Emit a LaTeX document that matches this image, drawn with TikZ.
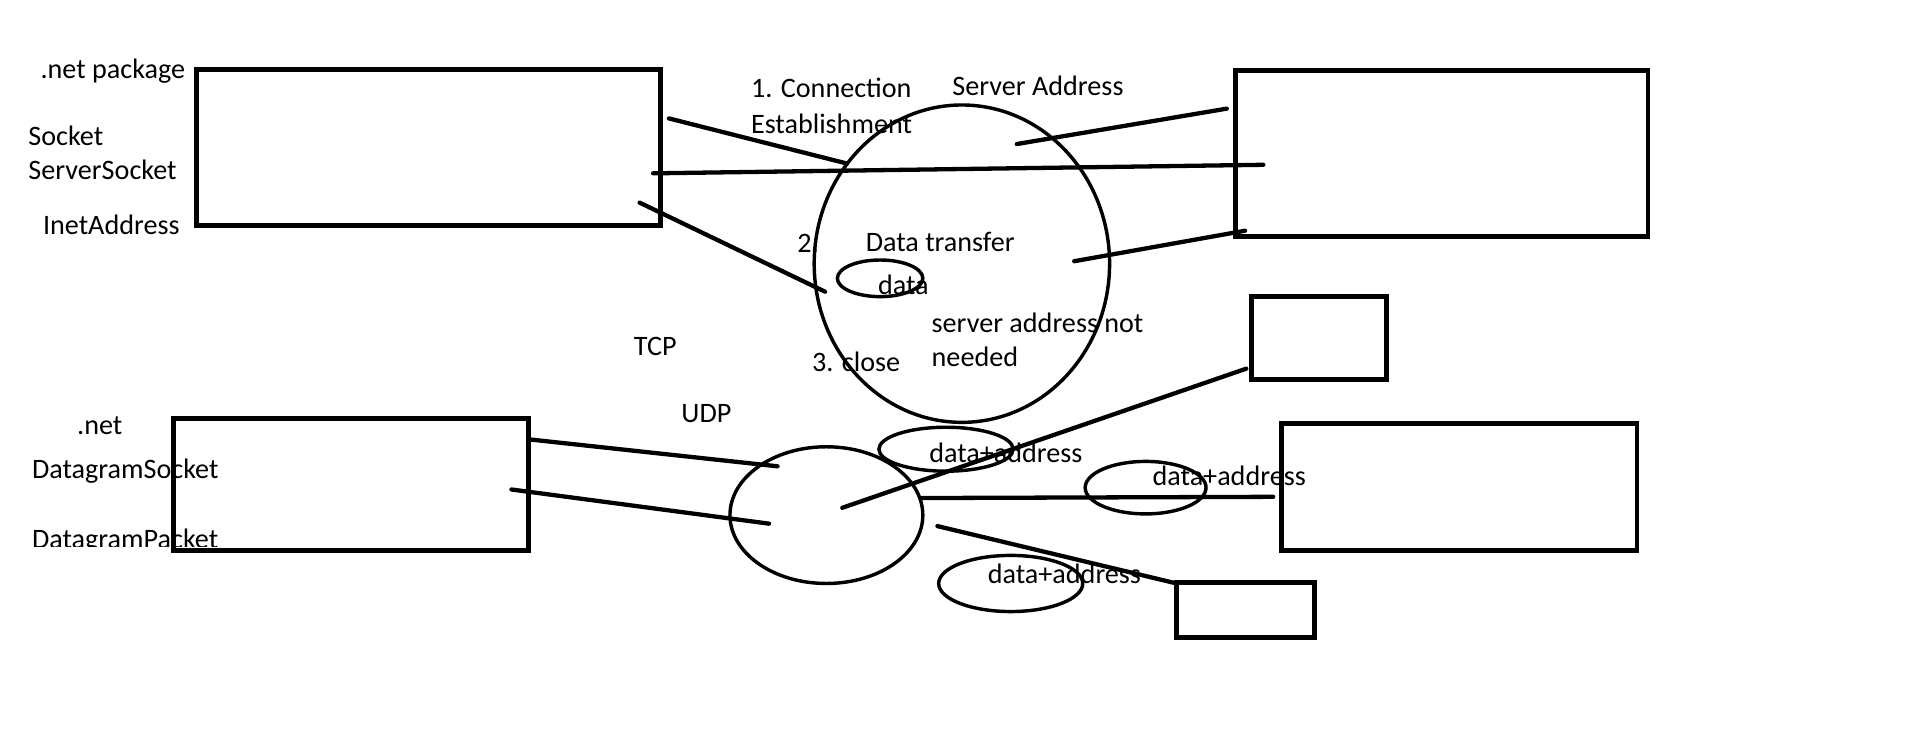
\documentclass[tikz,border=0pt]{standalone}
\usepackage{fontspec}
\setmainfont{Carlito}
\usetikzlibrary{shapes.geometric}

\newcommand{\px}{0.025cm}

\begin{document}
\begin{tikzpicture}[x=\px, y=-\px,
    box/.style={draw, line width=2.8pt, inner sep=0pt},
    blob/.style={draw, ellipse, line width=2pt, inner sep=0pt},
    wire/.style={line width=2.5pt, line cap=round},
    lbl/.style={anchor=base west, inner sep=0pt, font=\fontsize{16.4}{20}\selectfont}]
    \useasboundingbox (0,0) rectangle (1568,606);

    % Draw boxes
    \node[box, minimum width=380*\px, minimum height=128*\px] (tcpbox) at (351,121) {};
    \node[box, minimum width=338*\px, minimum height=136*\px] (serverbox) at (1181,126) {};
    \node[box, minimum width=111*\px, minimum height=68*\px] (peerA) at (1080.5,277) {};
    \node[box, minimum width=291*\px, minimum height=104*\px] (peerB) at (1195.5,399) {};
    \node[box, minimum width=113*\px, minimum height=45*\px] (peerC) at (1020.5,499.5) {};
    \node[box, minimum width=291*\px, minimum height=108*\px] (udpbox) at (287.5,397) {};

    % Draw ellipses
    \node[blob, minimum width=242*\px, minimum height=260*\px] (tcpconn) at (788,216) {};
    \node[blob, minimum width=70*\px, minimum height=30*\px] (datablob) at (721,228) {};
    \node[blob, minimum width=158*\px, minimum height=112*\px] (udpconn) at (677,422) {};
    \node[blob, minimum width=110*\px, minimum height=36*\px] (pktA) at (775,368) {};
    \node[blob, minimum width=99*\px, minimum height=43*\px] (pktB) at (938.5,399.5) {};
    \node[blob, minimum width=118*\px, minimum height=46*\px] (pktC) at (828,478) {};

    % Line ends
    \coordinate (c1a) at (548,97);   \coordinate (c1b) at (694,134);
    \coordinate (c2a) at (535,142);  \coordinate (c2b) at (1035,135);
    \coordinate (c3a) at (524,166);  \coordinate (c3b) at (676,239);
    \coordinate (s1a) at (833,118);  \coordinate (s1b) at (1005,89);
    \coordinate (s2a) at (880,214);  \coordinate (s2b) at (1020,189);
    \coordinate (u1a) at (690,416);  \coordinate (u1b) at (1021,302);
    \coordinate (u2a) at (755,408);  \coordinate (u2b) at (1043,407);
    \coordinate (u3a) at (768,431);  \coordinate (u3b) at (964,478);
    \coordinate (d1a) at (434,360);  \coordinate (d1b) at (637,382);
    \coordinate (d2a) at (419,401);  \coordinate (d2b) at (630,429);

    % Draw lines
    \draw[wire] (c1a) -- (c1b);
    \draw[wire] (c2a) -- (c2b);
    \draw[wire] (c3a) -- (c3b);
    \draw[wire] (s1a) -- (s1b);
    \draw[wire] (s2a) -- (s2b);
    \draw[wire] (u1a) -- (u1b);
    \draw[wire] (u2a) -- (u2b);
    \draw[wire] (u3a) -- (u3b);
    \draw[wire] (d1a) -- (d1b);
    \draw[wire] (d2a) -- (d2b);

    % Draw labels
    \node[lbl] (netpkg) at (33,64) {.net package};
    \node[lbl] (socket) at (23,119) {Socket};
    \node[lbl] (srvsocket) at (23,147) {ServerSocket};
    \node[lbl] (inetaddr) at (35,192) {InetAddress};
    \node[lbl] (step1) at (615,80) {1. Connection};
    \node[lbl] (step1b) at (615,109) {Establishment};
    \node[lbl] (srvaddr) at (780,78) {Server Address};
    \node[lbl] (step2) at (653,207) {2.};
    \node[lbl] (transfer) at (709,206) {Data transfer};
    \node[lbl] (datatxt) at (719,241) {data};
    \node[lbl] (notneeded) at (763,272) {server address not};
    \node[lbl] (needed) at (763,300) {needed};
    \node[lbl] (step3) at (665,304) {3. close};
    \node[lbl] (tcp) at (519,291) {TCP};
    \node[lbl] (udp) at (558,346) {UDP};
    \node[lbl] (net) at (63,356) {.net};
    \node[lbl] (dgsocket) at (26,392) {DatagramSocket};
    \begin{scope}
      \clip (0,0) rectangle (400,448);
      \node[lbl] (dgpacket) at (26,449) {DatagramPacket};
    \end{scope}
    \node[lbl] (pktAtxt) at (761,379) {data+address};
    \node[lbl] (pktBtxt) at (944,398) {data+address};
    \node[lbl] (pktCtxt) at (809,478) {data+address};
\end{tikzpicture}
\end{document}
